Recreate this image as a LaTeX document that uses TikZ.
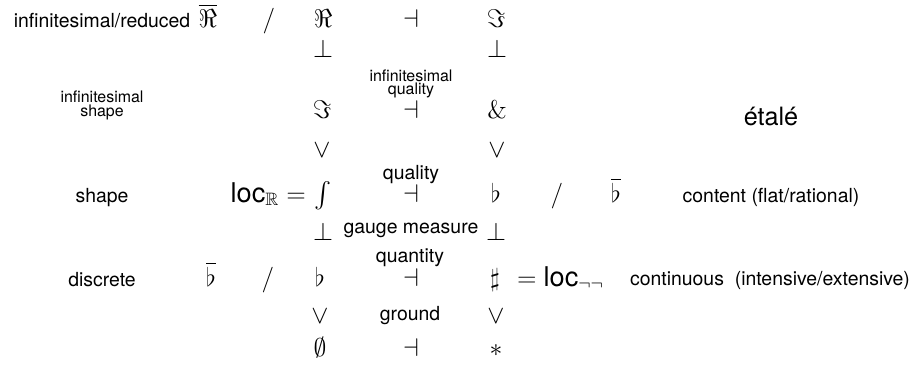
\RequirePackage{fix-cm}
\documentclass[tikz,border=0pt]{standalone}
\usepackage{amssymb}
\usepackage[no-math]{fontspec}
\setmainfont{TeX Gyre Heros}
\newcommand\locfont{\fontsize{14}{16}\selectfont}
\tikzset{
  bnode/.style={inner sep=0pt, outer sep=0pt, anchor=base},
  sym/.style={bnode, font=\fontsize{13.2}{15}\selectfont},
  lab/.style={bnode, font=\fontsize{10}{12}\selectfont},
  slab/.style={bnode, font=\fontsize{8.2}{9.5}\selectfont},
  biglab/.style={bnode, font=\fontsize{13}{15}\selectfont},
}
\begin{document}
\begin{tikzpicture}[x=0.515pt,y=-0.515pt]
\useasboundingbox (0,0) rectangle (915,364);
% row 1
\node[lab] (tR) at (102,27) {infinitesimal/reduced};
\node[sym] (bR) at (208,27) {$\overline{\Re}$};
\node[sym] (s1) at (269,27) {$/$};
\node[sym] (R) at (323,27) {$\Re$};
\node[sym] (d1) at (411,27) {$\dashv$};
\node[sym] (I1) at (496,27) {$\Im$};
% row 2
\node[sym] (p1) at (323,57) {$\bot$};
\node[sym] (p2) at (497,57) {$\bot$};
% row 3
\node[slab] (iq1) at (411,81) {infinitesimal};
\node[slab] (iq2) at (411,94) {quality};
\node[slab] (is1) at (102,102) {infinitesimal};
\node[slab] (is2) at (102,116) {shape};
\node[sym] (I2) at (322,118) {$\Im$};
\node[sym] (d2) at (411,118) {$\dashv$};
\node[sym] (amp) at (497,118) {$\&$};
\node[biglab] (et) at (771,125) {étalé};
% row 4
\node[sym] (v1) at (322,157) {$\vee$};
\node[sym] (v2) at (497,157) {$\vee$};
% row 5
\node[lab] (q) at (411,179) {quality};
\node[lab] (sh) at (102,202) {shape};
\node[sym, anchor=base east] (locR) at (306,202) {$\mbox{\locfont loc}_{\mathbb{R}} =$};
\node[sym] (int) at (323,202) {$\int$};
\node[sym] (d3) at (411,202) {$\dashv$};
\node[sym] (fl1) at (496,202) {$\flat$};
\node[sym] (s2) at (557,202) {$/$};
\node[sym] (bfl1) at (616,202) {$\overline{\flat}$};
\node[lab] (ct) at (771,202) {content (flat/rational)};
% row 6
\node[sym] (p3) at (323,240) {$\bot$};
\node[lab] (gm) at (411,233) {gauge measure};
\node[sym] (p4) at (496,240) {$\bot$};
% row 7
\node[lab] (qt) at (410,262) {quantity};
\node[lab] (dc) at (102,286) {discrete};
\node[sym] (bfl2) at (211,286) {$\overline{\flat}$};
\node[sym] (s3) at (268,286) {$/$};
\node[sym] (fl2) at (320,286) {$\flat$};
\node[sym] (d4) at (411,286) {$\dashv$};
\node[sym] (sh2) at (495,286) {$\sharp$};
\node[sym, anchor=base west] (locN) at (517,286) {$=\mbox{\locfont loc}_{\neg\neg}$};
\node[lab] (cn) at (770,285) {continuous~ (intensive/extensive)};
% row 8
\node[sym] (v3) at (320,323) {$\vee$};
\node[lab] (gr) at (410,320) {ground};
\node[sym] (v4) at (496,323) {$\vee$};
% row 9
\node[sym] (em) at (320,356) {$\emptyset$};
\node[sym] (d5) at (411,356) {$\dashv$};
\node[sym] (st) at (496,356) {$\ast$};
\end{tikzpicture}
\end{document}
